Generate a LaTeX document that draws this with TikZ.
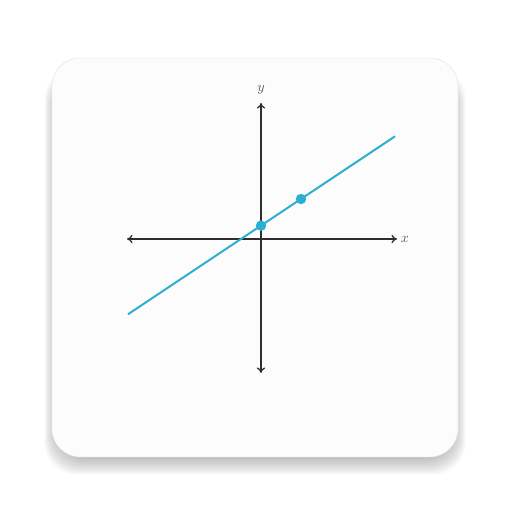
\documentclass[tikz,border=0pt]{standalone}
\usepackage{tikz}
\usetikzlibrary{arrows.meta, positioning, calc}
\definecolor{cardbg}{HTML}{FCFCFC}
\definecolor{lineblue}{HTML}{2AAFD2}
\definecolor{axisgray}{HTML}{2E2E2E}
\tikzset{
    card/.style={rounded corners=0.7cm, fill=cardbg, draw=black!12, line width=0.3pt},
    axis/.style={draw=axisgray, line width=0.9pt, <->, >={To[length=4pt, width=6pt]}},
    fitline/.style={draw=lineblue, line width=1.4pt},
    dot/.style={circle, fill=lineblue, inner sep=0pt, minimum size=0.26cm},
    axislabel/.style={text=black!65}
}

\begin{document}
\begin{tikzpicture}
        \useasboundingbox (-6.525,-6.825) rectangle (6.275,5.975);
        % soft shadow under the card
        \foreach \i in {1,...,14}
            \fill[black, opacity=0.018, rounded corners=0.8cm]
                ($(-5.225,-5.45)+(-0.022*\i+0.12,-0.03*\i-0.02)$) rectangle ($(4.925,4.0)+(0.022*\i-0.12,0.02*\i)$);
        \draw[card] (-5.225,-5.45) rectangle (4.925,4.525);
        % axes
        \coordinate (xl) at (-3.35,0);
        \coordinate (xr) at (3.4,0);
        \coordinate (yb) at (0,-3.35);
        \coordinate (yt) at (0,3.4);
        \draw[axis] (xl) -- (xr);
        \draw[axis] (yb) -- (yt);
        \node[axislabel] (xlab) at (3.6,-0.02) {$x$};
        \node[axislabel] (ylab) at (0,3.72) {$y$};
        % line y = 2/3 x + 1/3
        \coordinate (lstart) at (-3.325,-1.883);
        \coordinate (lend) at (3.35,2.567);
        \draw[fitline] (lstart) -- (lend);
        \node[dot] (p0) at (0,0.333) {};
        \node[dot] (p1) at (1,1) {};
    \end{tikzpicture}
\end{document}
